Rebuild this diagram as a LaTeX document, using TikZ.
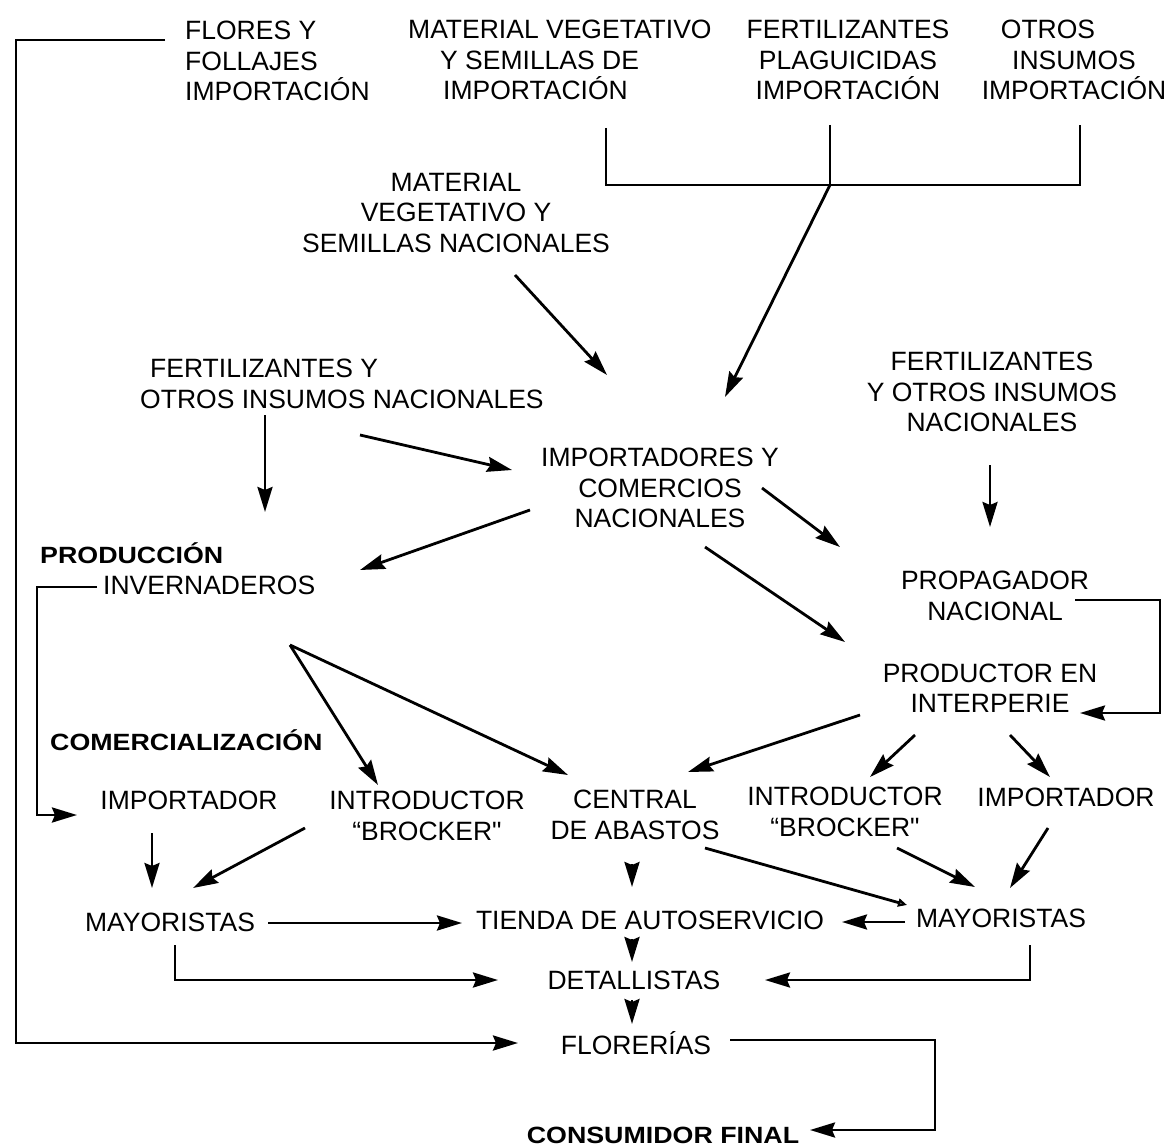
\documentclass[tikz,border=0pt]{standalone}
\usepackage{fontspec}
\setmainfont{Liberation Sans}
\newfontfamily\wideb{Liberation Sans}[FakeStretch=1.14]
\usetikzlibrary{arrows.meta}
\tikzset{
  lbl/.style={font=\fontsize{26.5}{30.5}\selectfont, inner sep=0pt, align=center},
  blbl/.style={font=\wideb\bfseries\fontsize{23.5}{28}\selectfont, inner sep=0pt},
  ln/.style={line width=2.8pt, line join=miter},
  arr/.style={ln, -{Stealth[length=25pt,width=15pt,inset=3pt]}},
  oarr/.style={ln, -{Triangle[open,length=9pt,width=8pt]}}
}
\begin{document}
\begin{tikzpicture}[x=1pt,y=-1pt]
\useasboundingbox[fill=white] (0,0) rectangle (1174,1147);
% texts
\node[lbl, anchor=west, align=left] (flores) at (185,61) {FLORES Y\\FOLLAJES\\IMPORTACIÓN};
\node[lbl, anchor=west, align=left] (matimp) at (408,60) {MATERIAL VEGETATIVO\\\hspace*{32pt}Y SEMILLAS DE\\\hspace*{35pt}IMPORTACIÓN};
\node[lbl] (fertimp) at (848,60) {FERTILIZANTES\\PLAGUICIDAS\\IMPORTACIÓN};
\node[lbl] (otros) at (1074,60) {OTROS\hspace*{52pt}\\INSUMOS\hspace*{48pt}\\IMPORTACIÓN};
\node[lbl] (matnac) at (456,213) {MATERIAL\\VEGETATIVO Y\\SEMILLAS NACIONALES};
\node[lbl, anchor=west, align=left] (fertnac) at (140,384) {\hspace*{10pt}FERTILIZANTES Y\\OTROS INSUMOS NACIONALES};
\node[lbl] (fertnacb) at (992,392) {FERTILIZANTES\\Y OTROS INSUMOS\\NACIONALES};
\node[lbl] (impcom) at (660,488) {IMPORTADORES Y\\COMERCIOS\\NACIONALES};
\node[blbl, anchor=west] (prod) at (40,553) {PRODUCCIÓN};
\node[lbl, anchor=west] (inv) at (103,585) {INVERNADEROS};
\node[lbl] (prop) at (995,596) {PROPAGADOR\\NACIONAL};
\node[lbl] (prodint) at (990,688) {PRODUCTOR EN\\INTERPERIE};
\node[blbl, anchor=west] (comer) at (50,740) {COMERCIALIZACIÓN};
\node[lbl] (impa) at (189,800) {IMPORTADOR};
\node[lbl] (introa) at (427,816) {INTRODUCTOR\\“BROCKER\textquotedbl};
\node[lbl] (central) at (635,815) {CENTRAL\\DE ABASTOS};
\node[lbl] (introb) at (845,812) {INTRODUCTOR\\“BROCKER\textquotedbl};
\node[lbl] (impb) at (1066,797) {IMPORTADOR};
\node[lbl] (maya) at (170,922) {MAYORISTAS};
\node[lbl] (tienda) at (650,920) {TIENDA DE AUTOSERVICIO};
\node[lbl] (mayb) at (1001,918) {MAYORISTAS};
\node[lbl] (detall) at (634,980) {DETALLISTAS};
\node[lbl] (flor) at (636,1043) {FLORERÍAS};
\node[blbl] (cons) at (663,1135) {CONSUMIDOR FINAL};
% coordinates
\coordinate (floresfoot) at (165,40);
\coordinate (railtop) at (16,40);
\coordinate (flortip) at (518,1043);
\coordinate (ba) at (606,128);
\coordinate (bb) at (830,125);
\coordinate (bc) at (1080,125);
\coordinate (bj) at (830,185);
\coordinate (tipimp) at (725,397);
\coordinate (mns) at (515,275);
\coordinate (mnt) at (607,375);
\coordinate (fna) at (265,415);
\coordinate (fnat) at (265,512);
\coordinate (fnb) at (360,435);
\coordinate (fnbt) at (512,470);
\coordinate (ica) at (530,510);
\coordinate (icat) at (360,570);
\coordinate (icb) at (762,488);
\coordinate (icbt) at (840,547);
\coordinate (icc) at (705,547);
\coordinate (icct) at (845,642);
\coordinate (fnc) at (990,465);
\coordinate (fnct) at (990,527);
\coordinate (pra) at (1075,600);
\coordinate (prb) at (1160,600);
\coordinate (prc) at (1160,713);
\coordinate (prt) at (1080,713);
\coordinate (iva) at (97,587);
\coordinate (ivb) at (37,587);
\coordinate (ivc) at (37,815);
\coordinate (ivt) at (77,815);
\coordinate (apex) at (290,645);
\coordinate (apexa) at (378,785);
\coordinate (apexb) at (568,775);
\coordinate (pia) at (860,715);
\coordinate (piat) at (688,772);
\coordinate (pib) at (915,735);
\coordinate (pibt) at (870,777);
\coordinate (pic) at (1010,735);
\coordinate (pict) at (1050,777);
\coordinate (ima) at (152,833);
\coordinate (imat) at (152,888);
\coordinate (ita) at (305,828);
\coordinate (itat) at (193,888);
\coordinate (cea) at (632,864);
\coordinate (ceat) at (632,887);
\coordinate (ceb) at (705,848);
\coordinate (cebt) at (907,905);
\coordinate (itb) at (897,848);
\coordinate (itbt) at (975,887);
\coordinate (imb) at (1048,828);
\coordinate (imbt) at (1010,888);
\coordinate (maa) at (268,923);
\coordinate (maat) at (462,923);
\coordinate (mba) at (905,922);
\coordinate (mbat) at (842,922);
\coordinate (tia) at (632,939);
\coordinate (tiat) at (632,962);
\coordinate (mab) at (175,945);
\coordinate (mabt) at (498,980);
\coordinate (mbb) at (1030,945);
\coordinate (mbbt) at (765,980);
\coordinate (dea) at (632,1000);
\coordinate (deat) at (632,1024);
\coordinate (fla) at (730,1040);
\coordinate (flb) at (935,1040);
\coordinate (flc) at (935,1130);
\coordinate (flt) at (810,1130);
% connectors
\draw[arr] (floresfoot) -- (railtop) |- (flortip);
\draw[ln] (ba) -- (ba |- bj) -- (bc |- bj) -- (bc);
\draw[ln] (bb) -- (bj);
\draw[arr] (bj) -- (tipimp);
\draw[arr] (mns) -- (mnt);
\draw[arr] (fna) -- (fnat);
\draw[arr] (fnb) -- (fnbt);
\draw[arr] (ica) -- (icat);
\draw[arr] (icb) -- (icbt);
\draw[arr] (icc) -- (icct);
\draw[arr] (fnc) -- (fnct);
\draw[arr] (pra) -- (prb) -- (prc) -- (prt);
\draw[arr] (iva) -- (ivb) -- (ivc) -- (ivt);
\draw[arr] (apex) -- (apexa);
\draw[arr] (apex) -- (apexb);
\draw[arr] (pia) -- (piat);
\draw[arr] (pib) -- (pibt);
\draw[arr] (pic) -- (pict);
\draw[arr] (ima) -- (imat);
\draw[arr] (ita) -- (itat);
\draw[arr] (cea) -- (ceat);
\draw[oarr] (ceb) -- (cebt);
\draw[arr] (itb) -- (itbt);
\draw[arr] (imb) -- (imbt);
\draw[arr] (maa) -- (maat);
\draw[arr] (mba) -- (mbat);
\draw[arr] (tia) -- (tiat);
\draw[arr] (mab) |- (mabt);
\draw[arr] (mbb) |- (mbbt);
\draw[arr] (dea) -- (deat);
\draw[arr] (fla) -- (flb) -- (flc) -- (flt);
\end{tikzpicture}
\end{document}
